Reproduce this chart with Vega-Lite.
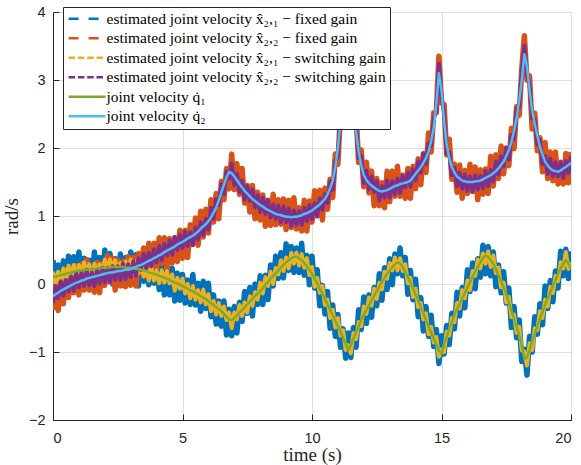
{
  "$schema": "https://vega.github.io/schema/vega-lite/v6.json",
  "width": 518,
  "height": 408,
  "autosize": {"type": "none"},
  "padding": {"left": 53, "top": 12, "right": 10, "bottom": 45},
  "background": "white",
  "config": {
    "view": {"stroke": null},
    "legend": {"labelFont": "Liberation Serif"},
    "axis": {
      "domainColor": "#262626",
      "domainWidth": 1,
      "tickColor": "#262626",
      "tickSize": -6,
      "labelColor": "#262626",
      "labelFont": "Liberation Sans",
      "labelFontSize": 14.5,
      "titleColor": "#262626",
      "titleFont": "Liberation Serif",
      "titleFontSize": 19,
      "titleFontWeight": "normal",
      "gridColor": "#262626",
      "gridOpacity": 0.15
    }
  },
  "data": {
    "values": [
      {"t": 0.0, "q1": 0.10, "q2": -0.18, "f1": 0.35, "f2": -0.38, "s1": 0.18, "s2": -0.28},
      {"t": 0.1, "q1": 0.11, "q2": -0.15, "f1": -0.09, "f2": 0.02, "s1": 0.01, "s2": -0.03},
      {"t": 0.2, "q1": 0.12, "q2": -0.13, "f1": 0.28, "f2": -0.39, "s1": 0.18, "s2": -0.21},
      {"t": 0.3, "q1": 0.13, "q2": -0.10, "f1": -0.13, "f2": 0.04, "s1": 0.01, "s2": 0.04},
      {"t": 0.4, "q1": 0.14, "q2": -0.08, "f1": 0.34, "f2": -0.29, "s1": 0.23, "s2": -0.17},
      {"t": 0.5, "q1": 0.15, "q2": -0.06, "f1": 0.00, "f2": 0.21, "s1": 0.08, "s2": 0.06},
      {"t": 0.6, "q1": 0.16, "q2": -0.04, "f1": 0.41, "f2": -0.20, "s1": 0.27, "s2": -0.11},
      {"t": 0.7, "q1": 0.17, "q2": -0.02, "f1": 0.05, "f2": 0.20, "s1": 0.12, "s2": 0.11},
      {"t": 0.8, "q1": 0.18, "q2": 0.00, "f1": 0.40, "f2": -0.13, "s1": 0.28, "s2": -0.10},
      {"t": 0.9, "q1": 0.19, "q2": 0.02, "f1": 0.00, "f2": 0.27, "s1": 0.07, "s2": 0.16},
      {"t": 1.0, "q1": 0.20, "q2": 0.03, "f1": 0.47, "f2": -0.16, "s1": 0.28, "s2": -0.05},
      {"t": 1.1, "q1": 0.20, "q2": 0.05, "f1": 0.05, "f2": 0.29, "s1": 0.14, "s2": 0.17},
      {"t": 1.2, "q1": 0.21, "q2": 0.06, "f1": 0.38, "f2": -0.09, "s1": 0.32, "s2": -0.03},
      {"t": 1.3, "q1": 0.21, "q2": 0.08, "f1": -0.02, "f2": 0.36, "s1": 0.12, "s2": 0.21},
      {"t": 1.4, "q1": 0.22, "q2": 0.09, "f1": 0.35, "f2": -0.09, "s1": 0.29, "s2": -0.02},
      {"t": 1.5, "q1": 0.22, "q2": 0.10, "f1": 0.01, "f2": 0.22, "s1": 0.10, "s2": 0.17},
      {"t": 1.6, "q1": 0.22, "q2": 0.11, "f1": 0.47, "f2": -0.12, "s1": 0.30, "s2": -0.03},
      {"t": 1.7, "q1": 0.23, "q2": 0.12, "f1": 0.05, "f2": 0.32, "s1": 0.13, "s2": 0.21},
      {"t": 1.8, "q1": 0.23, "q2": 0.13, "f1": 0.39, "f2": -0.13, "s1": 0.29, "s2": 0.01},
      {"t": 1.9, "q1": 0.24, "q2": 0.14, "f1": 0.02, "f2": 0.30, "s1": 0.15, "s2": 0.24},
      {"t": 2.0, "q1": 0.24, "q2": 0.15, "f1": 0.50, "f2": -0.02, "s1": 0.36, "s2": 0.02},
      {"t": 2.1, "q1": 0.24, "q2": 0.16, "f1": 0.10, "f2": 0.42, "s1": 0.18, "s2": 0.24},
      {"t": 2.2, "q1": 0.25, "q2": 0.17, "f1": 0.45, "f2": 0.03, "s1": 0.36, "s2": 0.03},
      {"t": 2.3, "q1": 0.25, "q2": 0.17, "f1": 0.00, "f2": 0.38, "s1": 0.17, "s2": 0.26},
      {"t": 2.4, "q1": 0.25, "q2": 0.18, "f1": 0.37, "f2": -0.09, "s1": 0.35, "s2": 0.06},
      {"t": 2.5, "q1": 0.25, "q2": 0.19, "f1": 0.03, "f2": 0.35, "s1": 0.13, "s2": 0.26},
      {"t": 2.6, "q1": 0.25, "q2": 0.19, "f1": 0.44, "f2": -0.03, "s1": 0.31, "s2": 0.06},
      {"t": 2.7, "q1": 0.25, "q2": 0.20, "f1": -0.02, "f2": 0.33, "s1": 0.14, "s2": 0.30},
      {"t": 2.8, "q1": 0.24, "q2": 0.21, "f1": 0.39, "f2": -0.04, "s1": 0.33, "s2": 0.07},
      {"t": 2.9, "q1": 0.24, "q2": 0.21, "f1": 0.07, "f2": 0.40, "s1": 0.17, "s2": 0.29},
      {"t": 3.0, "q1": 0.24, "q2": 0.22, "f1": 0.47, "f2": -0.02, "s1": 0.36, "s2": 0.10},
      {"t": 3.1, "q1": 0.23, "q2": 0.24, "f1": 0.10, "f2": 0.39, "s1": 0.15, "s2": 0.33},
      {"t": 3.2, "q1": 0.22, "q2": 0.25, "f1": 0.43, "f2": -0.03, "s1": 0.32, "s2": 0.12},
      {"t": 3.3, "q1": 0.22, "q2": 0.27, "f1": -0.03, "f2": 0.45, "s1": 0.16, "s2": 0.38},
      {"t": 3.4, "q1": 0.21, "q2": 0.28, "f1": 0.39, "f2": 0.16, "s1": 0.32, "s2": 0.21},
      {"t": 3.5, "q1": 0.20, "q2": 0.30, "f1": 0.04, "f2": 0.53, "s1": 0.11, "s2": 0.44},
      {"t": 3.6, "q1": 0.19, "q2": 0.32, "f1": 0.41, "f2": 0.12, "s1": 0.26, "s2": 0.23},
      {"t": 3.7, "q1": 0.17, "q2": 0.34, "f1": -0.01, "f2": 0.60, "s1": 0.05, "s2": 0.46},
      {"t": 3.8, "q1": 0.16, "q2": 0.36, "f1": 0.40, "f2": 0.20, "s1": 0.24, "s2": 0.26},
      {"t": 3.9, "q1": 0.15, "q2": 0.38, "f1": 0.01, "f2": 0.60, "s1": 0.05, "s2": 0.51},
      {"t": 4.0, "q1": 0.14, "q2": 0.40, "f1": 0.40, "f2": 0.23, "s1": 0.20, "s2": 0.32},
      {"t": 4.1, "q1": 0.12, "q2": 0.42, "f1": -0.08, "f2": 0.68, "s1": 0.01, "s2": 0.56},
      {"t": 4.2, "q1": 0.11, "q2": 0.44, "f1": 0.26, "f2": 0.30, "s1": 0.20, "s2": 0.35},
      {"t": 4.3, "q1": 0.09, "q2": 0.47, "f1": -0.16, "f2": 0.68, "s1": 0.02, "s2": 0.59},
      {"t": 4.4, "q1": 0.08, "q2": 0.49, "f1": 0.20, "f2": 0.22, "s1": 0.19, "s2": 0.42},
      {"t": 4.5, "q1": 0.06, "q2": 0.51, "f1": -0.16, "f2": 0.67, "s1": 0.01, "s2": 0.64},
      {"t": 4.6, "q1": 0.04, "q2": 0.53, "f1": 0.23, "f2": 0.31, "s1": 0.14, "s2": 0.43},
      {"t": 4.7, "q1": 0.02, "q2": 0.55, "f1": -0.25, "f2": 0.68, "s1": -0.10, "s2": 0.69},
      {"t": 4.8, "q1": 0.01, "q2": 0.58, "f1": 0.16, "f2": 0.33, "s1": 0.09, "s2": 0.50},
      {"t": 4.9, "q1": -0.01, "q2": 0.60, "f1": -0.24, "f2": 0.79, "s1": -0.07, "s2": 0.72},
      {"t": 5.0, "q1": -0.03, "q2": 0.62, "f1": 0.14, "f2": 0.38, "s1": 0.08, "s2": 0.53},
      {"t": 5.1, "q1": -0.05, "q2": 0.64, "f1": -0.28, "f2": 0.79, "s1": -0.14, "s2": 0.77},
      {"t": 5.2, "q1": -0.07, "q2": 0.67, "f1": 0.06, "f2": 0.39, "s1": 0.00, "s2": 0.56},
      {"t": 5.3, "q1": -0.09, "q2": 0.69, "f1": -0.30, "f2": 0.87, "s1": -0.21, "s2": 0.76},
      {"t": 5.4, "q1": -0.11, "q2": 0.71, "f1": 0.14, "f2": 0.59, "s1": -0.03, "s2": 0.57},
      {"t": 5.5, "q1": -0.13, "q2": 0.74, "f1": -0.31, "f2": 0.97, "s1": -0.23, "s2": 0.83},
      {"t": 5.6, "q1": -0.15, "q2": 0.77, "f1": 0.01, "f2": 0.57, "s1": -0.09, "s2": 0.65},
      {"t": 5.7, "q1": -0.18, "q2": 0.81, "f1": -0.40, "f2": 1.07, "s1": -0.27, "s2": 0.91},
      {"t": 5.8, "q1": -0.20, "q2": 0.85, "f1": 0.04, "f2": 0.69, "s1": -0.08, "s2": 0.72},
      {"t": 5.9, "q1": -0.22, "q2": 0.88, "f1": -0.36, "f2": 1.10, "s1": -0.30, "s2": 0.96},
      {"t": 6.0, "q1": -0.25, "q2": 0.92, "f1": 0.01, "f2": 0.75, "s1": -0.15, "s2": 0.80},
      {"t": 6.1, "q1": -0.28, "q2": 0.98, "f1": -0.48, "f2": 1.24, "s1": -0.40, "s2": 1.12},
      {"t": 6.2, "q1": -0.31, "q2": 1.05, "f1": -0.16, "f2": 0.91, "s1": -0.25, "s2": 0.96},
      {"t": 6.3, "q1": -0.34, "q2": 1.12, "f1": -0.59, "f2": 1.33, "s1": -0.45, "s2": 1.25},
      {"t": 6.4, "q1": -0.37, "q2": 1.23, "f1": -0.25, "f2": 0.96, "s1": -0.28, "s2": 1.16},
      {"t": 6.5, "q1": -0.40, "q2": 1.35, "f1": -0.62, "f2": 1.51, "s1": -0.47, "s2": 1.47},
      {"t": 6.6, "q1": -0.44, "q2": 1.46, "f1": -0.25, "f2": 1.24, "s1": -0.33, "s2": 1.32},
      {"t": 6.7, "q1": -0.48, "q2": 1.57, "f1": -0.75, "f2": 1.70, "s1": -0.53, "s2": 1.65},
      {"t": 6.8, "q1": -0.52, "q2": 1.65, "f1": -0.37, "f2": 1.40, "s1": -0.42, "s2": 1.55},
      {"t": 6.9, "q1": -0.53, "q2": 1.63, "f1": -0.76, "f2": 1.91, "s1": -0.65, "s2": 1.77},
      {"t": 7.0, "q1": -0.50, "q2": 1.58, "f1": -0.33, "f2": 1.39, "s1": -0.42, "s2": 1.45},
      {"t": 7.1, "q1": -0.46, "q2": 1.53, "f1": -0.72, "f2": 1.77, "s1": -0.52, "s2": 1.62},
      {"t": 7.2, "q1": -0.42, "q2": 1.47, "f1": -0.27, "f2": 1.32, "s1": -0.31, "s2": 1.35},
      {"t": 7.3, "q1": -0.38, "q2": 1.42, "f1": -0.55, "f2": 1.70, "s1": -0.47, "s2": 1.52},
      {"t": 7.4, "q1": -0.34, "q2": 1.37, "f1": -0.11, "f2": 1.19, "s1": -0.27, "s2": 1.24},
      {"t": 7.5, "q1": -0.30, "q2": 1.33, "f1": -0.43, "f2": 1.45, "s1": -0.42, "s2": 1.44},
      {"t": 7.6, "q1": -0.26, "q2": 1.29, "f1": -0.05, "f2": 1.06, "s1": -0.18, "s2": 1.22},
      {"t": 7.7, "q1": -0.22, "q2": 1.25, "f1": -0.47, "f2": 1.45, "s1": -0.32, "s2": 1.39},
      {"t": 7.8, "q1": -0.18, "q2": 1.22, "f1": 0.00, "f2": 0.96, "s1": -0.12, "s2": 1.13},
      {"t": 7.9, "q1": -0.14, "q2": 1.19, "f1": -0.30, "f2": 1.35, "s1": -0.23, "s2": 1.31},
      {"t": 8.0, "q1": -0.10, "q2": 1.16, "f1": 0.12, "f2": 0.94, "s1": 0.02, "s2": 1.06},
      {"t": 8.1, "q1": -0.06, "q2": 1.14, "f1": -0.30, "f2": 1.31, "s1": -0.14, "s2": 1.27},
      {"t": 8.2, "q1": -0.01, "q2": 1.11, "f1": 0.13, "f2": 0.85, "s1": 0.10, "s2": 1.03},
      {"t": 8.3, "q1": 0.03, "q2": 1.09, "f1": -0.23, "f2": 1.23, "s1": -0.03, "s2": 1.23},
      {"t": 8.4, "q1": 0.08, "q2": 1.07, "f1": 0.28, "f2": 0.86, "s1": 0.18, "s2": 0.98},
      {"t": 8.5, "q1": 0.12, "q2": 1.05, "f1": -0.03, "f2": 1.32, "s1": 0.00, "s2": 1.17},
      {"t": 8.6, "q1": 0.16, "q2": 1.03, "f1": 0.41, "f2": 0.87, "s1": 0.24, "s2": 0.96},
      {"t": 8.7, "q1": 0.20, "q2": 1.02, "f1": 0.08, "f2": 1.24, "s1": 0.14, "s2": 1.15},
      {"t": 8.8, "q1": 0.24, "q2": 1.01, "f1": 0.46, "f2": 0.88, "s1": 0.35, "s2": 0.91},
      {"t": 8.9, "q1": 0.28, "q2": 1.00, "f1": 0.09, "f2": 1.25, "s1": 0.19, "s2": 1.14},
      {"t": 9.0, "q1": 0.32, "q2": 0.99, "f1": 0.59, "f2": 0.80, "s1": 0.39, "s2": 0.91},
      {"t": 9.1, "q1": 0.35, "q2": 0.99, "f1": 0.20, "f2": 1.23, "s1": 0.23, "s2": 1.11},
      {"t": 9.2, "q1": 0.38, "q2": 0.98, "f1": 0.55, "f2": 0.83, "s1": 0.46, "s2": 0.85},
      {"t": 9.3, "q1": 0.40, "q2": 0.99, "f1": 0.17, "f2": 1.27, "s1": 0.30, "s2": 1.08},
      {"t": 9.4, "q1": 0.40, "q2": 0.99, "f1": 0.53, "f2": 0.81, "s1": 0.46, "s2": 0.87},
      {"t": 9.5, "q1": 0.38, "q2": 1.00, "f1": 0.17, "f2": 1.12, "s1": 0.27, "s2": 1.07},
      {"t": 9.6, "q1": 0.35, "q2": 1.01, "f1": 0.60, "f2": 0.78, "s1": 0.44, "s2": 0.87},
      {"t": 9.7, "q1": 0.31, "q2": 1.03, "f1": 0.13, "f2": 1.23, "s1": 0.24, "s2": 1.12},
      {"t": 9.8, "q1": 0.26, "q2": 1.04, "f1": 0.42, "f2": 0.78, "s1": 0.38, "s2": 0.92},
      {"t": 9.9, "q1": 0.21, "q2": 1.06, "f1": -0.01, "f2": 1.22, "s1": 0.13, "s2": 1.16},
      {"t": 10.0, "q1": 0.15, "q2": 1.08, "f1": 0.41, "f2": 0.91, "s1": 0.25, "s2": 0.95},
      {"t": 10.1, "q1": 0.08, "q2": 1.11, "f1": -0.06, "f2": 1.37, "s1": -0.04, "s2": 1.19},
      {"t": 10.2, "q1": 0.01, "q2": 1.14, "f1": 0.21, "f2": 1.00, "s1": 0.09, "s2": 1.00},
      {"t": 10.3, "q1": -0.07, "q2": 1.17, "f1": -0.32, "f2": 1.38, "s1": -0.13, "s2": 1.26},
      {"t": 10.4, "q1": -0.14, "q2": 1.21, "f1": -0.02, "f2": 0.94, "s1": -0.03, "s2": 1.09},
      {"t": 10.5, "q1": -0.22, "q2": 1.25, "f1": -0.44, "f2": 1.41, "s1": -0.31, "s2": 1.32},
      {"t": 10.6, "q1": -0.30, "q2": 1.32, "f1": -0.11, "f2": 1.10, "s1": -0.23, "s2": 1.19},
      {"t": 10.7, "q1": -0.38, "q2": 1.41, "f1": -0.65, "f2": 1.54, "s1": -0.50, "s2": 1.51},
      {"t": 10.8, "q1": -0.46, "q2": 1.52, "f1": -0.31, "f2": 1.27, "s1": -0.38, "s2": 1.38},
      {"t": 10.9, "q1": -0.54, "q2": 1.72, "f1": -0.77, "f2": 1.91, "s1": -0.64, "s2": 1.80},
      {"t": 11.0, "q1": -0.62, "q2": 2.00, "f1": -0.45, "f2": 1.76, "s1": -0.50, "s2": 1.88},
      {"t": 11.1, "q1": -0.70, "q2": 2.38, "f1": -0.93, "f2": 2.53, "s1": -0.76, "s2": 2.47},
      {"t": 11.2, "q1": -0.79, "q2": 2.80, "f1": -0.66, "f2": 2.52, "s1": -0.68, "s2": 2.67},
      {"t": 11.3, "q1": -0.88, "q2": 3.20, "f1": -1.09, "f2": 3.38, "s1": -0.97, "s2": 3.31},
      {"t": 11.4, "q1": -0.97, "q2": 3.40, "f1": -0.72, "f2": 3.28, "s1": -0.90, "s2": 3.33},
      {"t": 11.5, "q1": -0.90, "q2": 3.05, "f1": -1.08, "f2": 3.28, "s1": -1.02, "s2": 3.19},
      {"t": 11.6, "q1": -0.80, "q2": 2.60, "f1": -0.64, "f2": 2.40, "s1": -0.72, "s2": 2.51},
      {"t": 11.7, "q1": -0.71, "q2": 2.25, "f1": -0.93, "f2": 2.51, "s1": -0.81, "s2": 2.37},
      {"t": 11.8, "q1": -0.62, "q2": 1.95, "f1": -0.38, "f2": 1.79, "s1": -0.56, "s2": 1.85},
      {"t": 11.9, "q1": -0.53, "q2": 1.75, "f1": -0.67, "f2": 1.97, "s1": -0.62, "s2": 1.88},
      {"t": 12.0, "q1": -0.45, "q2": 1.60, "f1": -0.19, "f2": 1.43, "s1": -0.33, "s2": 1.48},
      {"t": 12.1, "q1": -0.38, "q2": 1.53, "f1": -0.58, "f2": 1.79, "s1": -0.44, "s2": 1.67},
      {"t": 12.2, "q1": -0.31, "q2": 1.48, "f1": -0.16, "f2": 1.34, "s1": -0.20, "s2": 1.39},
      {"t": 12.3, "q1": -0.24, "q2": 1.45, "f1": -0.49, "f2": 1.66, "s1": -0.32, "s2": 1.58},
      {"t": 12.4, "q1": -0.17, "q2": 1.42, "f1": -0.05, "f2": 1.15, "s1": -0.07, "s2": 1.35},
      {"t": 12.5, "q1": -0.10, "q2": 1.39, "f1": -0.32, "f2": 1.55, "s1": -0.22, "s2": 1.51},
      {"t": 12.6, "q1": -0.04, "q2": 1.37, "f1": 0.15, "f2": 1.15, "s1": 0.02, "s2": 1.23},
      {"t": 12.7, "q1": 0.03, "q2": 1.36, "f1": -0.24, "f2": 1.49, "s1": -0.08, "s2": 1.44},
      {"t": 12.8, "q1": 0.09, "q2": 1.37, "f1": 0.24, "f2": 1.12, "s1": 0.18, "s2": 1.27},
      {"t": 12.9, "q1": 0.15, "q2": 1.38, "f1": -0.08, "f2": 1.66, "s1": 0.08, "s2": 1.52},
      {"t": 13.0, "q1": 0.20, "q2": 1.40, "f1": 0.37, "f2": 1.21, "s1": 0.31, "s2": 1.27},
      {"t": 13.1, "q1": 0.25, "q2": 1.42, "f1": -0.01, "f2": 1.66, "s1": 0.20, "s2": 1.51},
      {"t": 13.2, "q1": 0.29, "q2": 1.44, "f1": 0.44, "f2": 1.29, "s1": 0.39, "s2": 1.32},
      {"t": 13.3, "q1": 0.32, "q2": 1.45, "f1": 0.15, "f2": 1.73, "s1": 0.20, "s2": 1.55},
      {"t": 13.4, "q1": 0.30, "q2": 1.47, "f1": 0.53, "f2": 1.29, "s1": 0.38, "s2": 1.34},
      {"t": 13.5, "q1": 0.25, "q2": 1.48, "f1": 0.12, "f2": 1.60, "s1": 0.19, "s2": 1.59},
      {"t": 13.6, "q1": 0.18, "q2": 1.49, "f1": 0.39, "f2": 1.26, "s1": 0.29, "s2": 1.42},
      {"t": 13.7, "q1": 0.10, "q2": 1.50, "f1": -0.15, "f2": 1.70, "s1": 0.01, "s2": 1.64},
      {"t": 13.8, "q1": 0.02, "q2": 1.52, "f1": 0.20, "f2": 1.26, "s1": 0.09, "s2": 1.43},
      {"t": 13.9, "q1": -0.07, "q2": 1.57, "f1": -0.23, "f2": 1.73, "s1": -0.19, "s2": 1.69},
      {"t": 14.0, "q1": -0.15, "q2": 1.62, "f1": 0.07, "f2": 1.40, "s1": -0.07, "s2": 1.52},
      {"t": 14.1, "q1": -0.24, "q2": 1.67, "f1": -0.48, "f2": 1.84, "s1": -0.34, "s2": 1.80},
      {"t": 14.2, "q1": -0.34, "q2": 1.72, "f1": -0.20, "f2": 1.46, "s1": -0.28, "s2": 1.64},
      {"t": 14.3, "q1": -0.43, "q2": 1.78, "f1": -0.69, "f2": 1.92, "s1": -0.52, "s2": 1.92},
      {"t": 14.4, "q1": -0.53, "q2": 1.85, "f1": -0.33, "f2": 1.64, "s1": -0.43, "s2": 1.76},
      {"t": 14.5, "q1": -0.62, "q2": 1.95, "f1": -0.77, "f2": 2.22, "s1": -0.74, "s2": 2.07},
      {"t": 14.6, "q1": -0.71, "q2": 2.10, "f1": -0.46, "f2": 1.94, "s1": -0.63, "s2": 2.03},
      {"t": 14.7, "q1": -0.80, "q2": 2.30, "f1": -0.92, "f2": 2.52, "s1": -0.86, "s2": 2.43},
      {"t": 14.8, "q1": -0.89, "q2": 2.65, "f1": -0.67, "f2": 2.52, "s1": -0.78, "s2": 2.55},
      {"t": 14.9, "q1": -0.98, "q2": 3.10, "f1": -1.17, "f2": 3.35, "s1": -1.07, "s2": 3.24},
      {"t": 15.0, "q1": -1.03, "q2": 2.85, "f1": -0.76, "f2": 2.66, "s1": -0.96, "s2": 2.77},
      {"t": 15.1, "q1": -0.88, "q2": 2.40, "f1": -1.03, "f2": 2.64, "s1": -1.00, "s2": 2.52},
      {"t": 15.2, "q1": -0.78, "q2": 2.05, "f1": -0.61, "f2": 1.90, "s1": -0.70, "s2": 1.92},
      {"t": 15.3, "q1": -0.66, "q2": 1.85, "f1": -0.89, "f2": 2.13, "s1": -0.76, "s2": 1.94},
      {"t": 15.4, "q1": -0.56, "q2": 1.72, "f1": -0.43, "f2": 1.54, "s1": -0.50, "s2": 1.60},
      {"t": 15.5, "q1": -0.45, "q2": 1.64, "f1": -0.66, "f2": 1.76, "s1": -0.56, "s2": 1.71},
      {"t": 15.6, "q1": -0.37, "q2": 1.58, "f1": -0.12, "f2": 1.35, "s1": -0.28, "s2": 1.44},
      {"t": 15.7, "q1": -0.29, "q2": 1.55, "f1": -0.47, "f2": 1.75, "s1": -0.36, "s2": 1.64},
      {"t": 15.8, "q1": -0.21, "q2": 1.52, "f1": -0.05, "f2": 1.26, "s1": -0.09, "s2": 1.40},
      {"t": 15.9, "q1": -0.13, "q2": 1.51, "f1": -0.35, "f2": 1.67, "s1": -0.21, "s2": 1.61},
      {"t": 16.0, "q1": -0.05, "q2": 1.50, "f1": 0.21, "f2": 1.33, "s1": 0.05, "s2": 1.37},
      {"t": 16.1, "q1": 0.03, "q2": 1.50, "f1": -0.11, "f2": 1.76, "s1": -0.09, "s2": 1.58},
      {"t": 16.2, "q1": 0.11, "q2": 1.50, "f1": 0.31, "f2": 1.36, "s1": 0.19, "s2": 1.36},
      {"t": 16.3, "q1": 0.18, "q2": 1.51, "f1": -0.07, "f2": 1.72, "s1": 0.12, "s2": 1.60},
      {"t": 16.4, "q1": 0.25, "q2": 1.51, "f1": 0.37, "f2": 1.24, "s1": 0.36, "s2": 1.39},
      {"t": 16.5, "q1": 0.32, "q2": 1.52, "f1": 0.10, "f2": 1.68, "s1": 0.23, "s2": 1.59},
      {"t": 16.6, "q1": 0.38, "q2": 1.54, "f1": 0.57, "f2": 1.32, "s1": 0.45, "s2": 1.41},
      {"t": 16.7, "q1": 0.42, "q2": 1.56, "f1": 0.15, "f2": 1.69, "s1": 0.30, "s2": 1.66},
      {"t": 16.8, "q1": 0.40, "q2": 1.58, "f1": 0.55, "f2": 1.33, "s1": 0.48, "s2": 1.44},
      {"t": 16.9, "q1": 0.35, "q2": 1.60, "f1": 0.12, "f2": 1.88, "s1": 0.25, "s2": 1.68},
      {"t": 17.0, "q1": 0.30, "q2": 1.63, "f1": 0.47, "f2": 1.44, "s1": 0.42, "s2": 1.51},
      {"t": 17.1, "q1": 0.22, "q2": 1.66, "f1": -0.04, "f2": 1.90, "s1": 0.16, "s2": 1.80},
      {"t": 17.2, "q1": 0.13, "q2": 1.70, "f1": 0.28, "f2": 1.55, "s1": 0.24, "s2": 1.61},
      {"t": 17.3, "q1": 0.04, "q2": 1.75, "f1": -0.13, "f2": 2.03, "s1": -0.05, "s2": 1.88},
      {"t": 17.4, "q1": -0.05, "q2": 1.80, "f1": 0.18, "f2": 1.62, "s1": 0.02, "s2": 1.73},
      {"t": 17.5, "q1": -0.15, "q2": 1.88, "f1": -0.28, "f2": 2.00, "s1": -0.27, "s2": 2.00},
      {"t": 17.6, "q1": -0.27, "q2": 1.97, "f1": -0.06, "f2": 1.74, "s1": -0.19, "s2": 1.83},
      {"t": 17.7, "q1": -0.39, "q2": 2.09, "f1": -0.64, "f2": 2.29, "s1": -0.49, "s2": 2.19},
      {"t": 17.8, "q1": -0.51, "q2": 2.25, "f1": -0.33, "f2": 1.99, "s1": -0.45, "s2": 2.13},
      {"t": 17.9, "q1": -0.63, "q2": 2.45, "f1": -0.79, "f2": 2.61, "s1": -0.72, "s2": 2.58},
      {"t": 18.0, "q1": -0.75, "q2": 2.70, "f1": -0.53, "f2": 2.48, "s1": -0.63, "s2": 2.60},
      {"t": 18.1, "q1": -0.90, "q2": 3.00, "f1": -1.14, "f2": 3.17, "s1": -0.98, "s2": 3.13},
      {"t": 18.2, "q1": -1.10, "q2": 3.38, "f1": -0.96, "f2": 3.65, "s1": -0.99, "s2": 3.50},
      {"t": 18.3, "q1": -1.08, "q2": 3.20, "f1": -1.34, "f2": 3.00, "s1": -1.20, "s2": 3.08},
      {"t": 18.4, "q1": -0.97, "q2": 2.85, "f1": -0.77, "f2": 3.06, "s1": -0.87, "s2": 2.94},
      {"t": 18.5, "q1": -0.85, "q2": 2.55, "f1": -1.00, "f2": 2.28, "s1": -0.97, "s2": 2.43},
      {"t": 18.6, "q1": -0.73, "q2": 2.35, "f1": -0.48, "f2": 2.51, "s1": -0.65, "s2": 2.42},
      {"t": 18.7, "q1": -0.62, "q2": 2.18, "f1": -0.74, "f2": 1.96, "s1": -0.68, "s2": 2.05},
      {"t": 18.8, "q1": -0.51, "q2": 2.02, "f1": -0.29, "f2": 2.15, "s1": -0.40, "s2": 2.12},
      {"t": 18.9, "q1": -0.41, "q2": 1.90, "f1": -0.60, "f2": 1.65, "s1": -0.50, "s2": 1.76},
      {"t": 19.0, "q1": -0.30, "q2": 1.80, "f1": -0.03, "f2": 2.08, "s1": -0.23, "s2": 1.88},
      {"t": 19.1, "q1": -0.21, "q2": 1.74, "f1": -0.36, "f2": 1.55, "s1": -0.33, "s2": 1.62},
      {"t": 19.2, "q1": -0.12, "q2": 1.70, "f1": 0.05, "f2": 1.94, "s1": -0.04, "s2": 1.84},
      {"t": 19.3, "q1": -0.03, "q2": 1.67, "f1": -0.26, "f2": 1.52, "s1": -0.13, "s2": 1.58},
      {"t": 19.4, "q1": 0.06, "q2": 1.66, "f1": 0.19, "f2": 1.94, "s1": 0.12, "s2": 1.79},
      {"t": 19.5, "q1": 0.15, "q2": 1.65, "f1": -0.06, "f2": 1.47, "s1": 0.04, "s2": 1.58},
      {"t": 19.6, "q1": 0.23, "q2": 1.67, "f1": 0.48, "f2": 1.79, "s1": 0.32, "s2": 1.79},
      {"t": 19.7, "q1": 0.30, "q2": 1.70, "f1": 0.12, "f2": 1.47, "s1": 0.23, "s2": 1.56},
      {"t": 19.8, "q1": 0.35, "q2": 1.72, "f1": 0.51, "f2": 1.92, "s1": 0.47, "s2": 1.81},
      {"t": 19.9, "q1": 0.30, "q2": 1.75, "f1": 0.08, "f2": 1.49, "s1": 0.22, "s2": 1.63},
      {"t": 20.0, "q1": 0.22, "q2": 1.78, "f1": 0.48, "f2": 1.94, "s1": 0.32, "s2": 1.88}
    ]
  },
  "transform": [
    {"fold": ["f1", "f2", "s1", "s2", "q1", "q2"], "as": ["series", "v"]}
  ],
  "encoding": {
    "x": {
      "field": "t",
      "type": "quantitative",
      "scale": {"domain": [0, 20], "nice": false},
      "axis": {"values": [0, 5, 10, 15, 20], "title": "time (s)", "labelPadding": 17, "titlePadding": 1}
    },
    "y": {
      "field": "v",
      "type": "quantitative",
      "scale": {"domain": [-2, 4], "nice": false, "zero": false},
      "axis": {"values": [-2, -1, 0, 1, 2, 3, 4], "title": "rad/s", "labelPadding": 14, "titlePadding": 7}
    },
    "color": {
      "field": "series",
      "type": "nominal",
      "scale": {
        "domain": ["f1", "f2", "s1", "s2", "q1", "q2"],
        "range": ["#0072BD", "#D95319", "#EDB120", "#7E2F8E", "#77AC30", "#4DBEEE"]
      },
      "legend": {
        "orient": "none",
        "legendX": 10,
        "legendY": -5,
        "title": null,
        "symbolType": "M-1,0H5",
        "symbolSize": 152,
        "symbolStrokeWidth": 2.5,
        "labelFont": "Liberation Serif",
        "labelFontSize": 15.5,
        "labelColor": "black",
        "labelLimit": 400,
        "labelOffset": 24,
        "rowPadding": 2.5,
        "padding": 4,
        "fillColor": "white",
        "strokeColor": "#262626",
        "labelExpr": "datum.value == 'f1' ? 'estimated joint velocity x\u0302\u2082,\u2081 \u2212 fixed gain' : datum.value == 'f2' ? 'estimated joint velocity x\u0302\u2082,\u2082 \u2212 fixed gain' : datum.value == 's1' ? 'estimated joint velocity x\u0302\u2082,\u2081 \u2212 switching gain' : datum.value == 's2' ? 'estimated joint velocity x\u0302\u2082,\u2082 \u2212 switching gain' : datum.value == 'q1' ? 'joint velocity q\u0307\u2081' : 'joint velocity q\u0307\u2082'",
        "encode": {
          "labels": {
            "update": {"font": {"value": "Liberation Serif"}}
          },
          "symbols": {
            "update": {
              "strokeDash": {"signal": "datum.value == 'f1' || datum.value == 'f2' ? [10, 10] : (datum.value == 's1' || datum.value == 's2' ? [6.5, 2.8] : [40, 0])"},
              "strokeWidth": {"value": 2.5}
            }
          }
        }
      }
    }
  },
  "layer": [
    {
      "transform": [{"filter": {"field": "series", "oneOf": ["f1", "f2"]}}],
      "mark": {"type": "line", "clip": true, "strokeJoin": "round", "strokeWidth": 5.5}
    },
    {
      "transform": [{"filter": {"field": "series", "oneOf": ["s1", "s2"]}}],
      "mark": {"type": "line", "clip": true, "strokeJoin": "round", "strokeWidth": 4}
    },
    {
      "transform": [{"filter": {"field": "series", "oneOf": ["q1", "q2"]}}],
      "mark": {"type": "line", "clip": true, "strokeJoin": "round", "strokeWidth": 2.5}
    }
  ]
}
